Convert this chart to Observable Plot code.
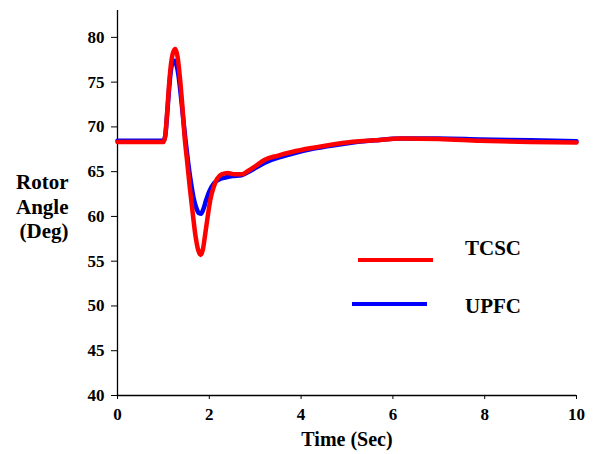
<!DOCTYPE html>
<html>
<head>
<meta charset="utf-8">
<script src="https://cdn.jsdelivr.net/npm/d3@7"></script>
<script src="https://cdn.jsdelivr.net/npm/@observablehq/plot@0.6"></script>
<style>
  html, body { margin: 0; padding: 0; background: #fff; }
  #chart { position: relative; width: 597px; height: 454px; }
  #legend { position: absolute; left: 0; top: 0; pointer-events: none; }
</style>
</head>
<body>
<div id="chart"></div>
<script>
// Rotor angle response after the disturbance, for the two compensators
const tcscTime  = [0, 1.0, 1.04, 1.08, 1.12, 1.16, 1.21, 1.26, 1.31, 1.36, 1.41, 1.46, 1.52, 1.58, 1.64, 1.70, 1.76, 1.81, 1.86, 1.91, 1.96, 2.02, 2.09, 2.17, 2.27, 2.4, 2.55, 2.7, 2.85, 3.0, 3.2, 3.5, 3.8, 4.3, 4.9, 5.6, 6.2, 7.0, 7.9, 9.0, 10];
const tcscAngle = [68.3, 68.3, 69.0, 71.5, 74.5, 76.8, 78.3, 78.7, 77.8, 75.5, 72.5, 69.0, 66.0, 63.0, 60.3, 57.8, 56.2, 55.7, 56.3, 58.0, 59.8, 61.8, 63.2, 64.2, 64.7, 64.85, 64.7, 64.7, 65.1, 65.6, 66.3, 66.8, 67.2, 67.7, 68.2, 68.5, 68.7, 68.65, 68.45, 68.3, 68.25];

const upfcTime  = [0, 1.0, 1.04, 1.08, 1.12, 1.16, 1.21, 1.24, 1.28, 1.33, 1.38, 1.43, 1.48, 1.54, 1.60, 1.66, 1.72, 1.78, 1.82, 1.87, 1.93, 2.0, 2.1, 2.2, 2.35, 2.5, 2.7, 2.9, 3.1, 3.35, 3.8, 4.3, 4.9, 5.6, 6.2, 7.0, 7.9, 9.0, 10];
const upfcAngle = [68.45, 68.45, 69.0, 71.3, 74.0, 76.2, 77.3, 77.4, 77.0, 75.7, 73.5, 71.0, 68.6, 66.0, 63.8, 62.0, 60.9, 60.35, 60.3, 60.8, 61.8, 62.8, 63.7, 64.1, 64.35, 64.5, 64.6, 65.1, 65.7, 66.3, 67.0, 67.6, 68.1, 68.5, 68.7, 68.7, 68.6, 68.5, 68.4];

const xTicks = [0, 2, 4, 6, 8, 10];
const yTicks = [40, 45, 50, 55, 60, 65, 70, 75, 80];

const seriesNames  = ["TCSC", "UPFC"];
const seriesColors = ["#ff0000", "#0000ff"];

const serif = "Liberation Serif, Times New Roman, serif";

const tcsc = tcscTime.map((t, i) => ({t, angle: tcscAngle[i]}));
const upfc = upfcTime.map((t, i) => ({t, angle: upfcAngle[i]}));

const chart = Plot.plot({
  width: 597,
  height: 454,
  marginLeft: 117,
  marginRight: 21,
  marginTop: 10,
  marginBottom: 59,
  style: {fontFamily: serif, fontWeight: "bold", background: "white"},
  x: {domain: [0, 10]},
  y: {domain: [40, 83]},
  marks: [
    Plot.axisX({ticks: xTicks, tickSize: 4, tickPadding: 8, fontSize: 17, fontFamily: serif, fontWeight: "bold", label: null, stroke: "#000"}),
    Plot.axisY({ticks: yTicks, tickSize: 6, tickPadding: 7, fontSize: 17, fontFamily: serif, fontWeight: "bold", label: null, stroke: "#000"}),
    Plot.ruleX([0], {stroke: "#000", strokeWidth: 1.3}),
    Plot.ruleY([40], {stroke: "#000", strokeWidth: 1.3}),
    Plot.line(upfc, {x: "t", y: "angle", stroke: seriesColors[1], strokeWidth: 4.5, curve: "monotone-x"}),
    Plot.line(tcsc, {x: "t", y: "angle", stroke: seriesColors[0], strokeWidth: 4.5, curve: "monotone-x"}),
    Plot.text(["Time (Sec)"], {frameAnchor: "bottom", dy: 50, fontSize: 20, fontFamily: serif, fontWeight: "bold", fill: "#000"}),
    Plot.text(["Rotor\nAngle\n(Deg)"], {frameAnchor: "left", dx: -49, dy: 3, textAnchor: "end", fontSize: 21, fontFamily: serif, fontWeight: "bold", lineHeight: 1.16, fill: "#000"})
  ]
});

document.getElementById("chart").appendChild(chart);

// Legend drawn over the plot area
const legend = d3.select("#chart").append("svg")
  .attr("id", "legend")
  .attr("width", 597)
  .attr("height", 454)
  .attr("font-family", serif)
  .attr("font-weight", "bold");

const legendLines = [[358, 433, 260], [352, 427, 304]];
const legendText  = [[465, 255], [465, 313]];

seriesNames.forEach((name, i) => {
  const [x1, x2, y] = legendLines[i];
  legend.append("line")
    .attr("x1", x1).attr("x2", x2).attr("y1", y).attr("y2", y)
    .attr("stroke", seriesColors[i]).attr("stroke-width", 4);
  legend.append("text")
    .attr("x", legendText[i][0]).attr("y", legendText[i][1])
    .attr("font-size", 21).attr("fill", "#000")
    .text(name);
});
</script>
</body>
</html>
